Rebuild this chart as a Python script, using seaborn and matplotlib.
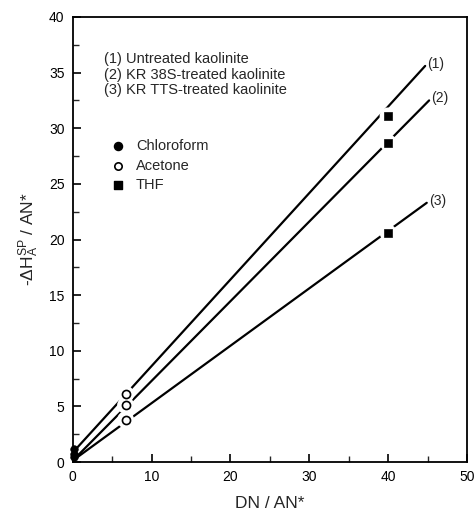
import numpy as np
import pandas as pd
import matplotlib
matplotlib.use("Agg")
import matplotlib.pyplot as plt
from matplotlib.ticker import MultipleLocator
import seaborn as sns

# ---- data ----
series = ["(1)", "(2)", "(3)"]
legend_lines = ["(1) Untreated kaolinite", "(2) KR 38S-treated kaolinite", "(3) KR TTS-treated kaolinite"]
line_x_start = [0.3, 0.5, 0.5]
line_y_start = [1.1, 0.5, 0.4]
line_x_end = [44.7, 45.2, 44.9]
line_y_end = [35.6, 32.5, 23.3]

chloroform_x = [0.2, 0.2, 0.2]
chloroform_y = [1.2, 0.7, 0.5]
acetone_x = [6.7, 6.7, 6.7]
acetone_y = [6.1, 5.1, 3.8]
thf_x = [40.0, 40.0, 40.0]
thf_y = [31.1, 28.7, 20.6]

solvents = ["Chloroform", "Acetone", "THF"]
x_ticks = [0, 10, 20, 30, 40, 50]
y_ticks = [0, 5, 10, 15, 20, 25, 30, 35, 40]

sns.set_theme(style="white")
plt.rcParams["font.family"] = ["Liberation Sans", "DejaVu Sans"]
plt.rcParams["mathtext.fontset"] = "custom"
plt.rcParams["mathtext.rm"] = "Liberation Sans"
plt.rcParams["mathtext.it"] = "Liberation Sans"
plt.rcParams["mathtext.bf"] = "Liberation Sans:bold"

fig = plt.figure(figsize=(4.76, 5.14), dpi=100)
ax = fig.add_axes([0.153, 0.101, 0.828, 0.866])

lines_df = pd.DataFrame({
    "x": line_x_start + line_x_end,
    "y": line_y_start + line_y_end,
    "s": series + series,
})
sns.lineplot(data=lines_df, x="x", y="y", hue="s", units="s", estimator=None,
             palette=["black"] * 3, linewidth=1.6, legend=False, ax=ax, zorder=2, sort=True)

# white halos to create gaps around markers
halo = pd.DataFrame({"x": acetone_x + thf_x, "y": acetone_y + thf_y})
sns.scatterplot(data=halo, x="x", y="y", s=150, color="white", edgecolor="none",
                marker="o", ax=ax, zorder=3, legend=False)

sns.scatterplot(x=chloroform_x, y=chloroform_y, s=30, color="black", marker="o",
                edgecolor="black", ax=ax, zorder=4, legend=False, clip_on=False)
sns.scatterplot(x=acetone_x, y=acetone_y, s=34, facecolor="white", marker="o",
                edgecolor="black", linewidth=1.2, ax=ax, zorder=4, legend=False)
sns.scatterplot(x=thf_x, y=thf_y, s=34, color="black", marker="s",
                edgecolor="black", ax=ax, zorder=4, legend=False)

# line end labels
for lab, xe, ye in zip(series, line_x_end, line_y_end):
    ax.text(xe + 0.3, ye + 0.2, lab, fontsize=10, ha="left", va="center")

# text legend
for i, t in enumerate(legend_lines):
    ax.text(4.0, 36.2 - 1.38 * i, t, fontsize=10.5, ha="left", va="center")

leg_marker_y = [28.4, 26.6, 24.9]
ax.scatter([5.7], [leg_marker_y[0]], s=34, color="black", marker="o")
ax.scatter([5.7], [leg_marker_y[1]], s=28, facecolor="white", edgecolor="black", linewidth=1.2, marker="o")
ax.scatter([5.7], [leg_marker_y[2]], s=30, color="black", marker="s")
for t, yy in zip(solvents, leg_marker_y):
    ax.text(8.0, yy, t, fontsize=10.5, ha="left", va="center")

ax.set_xlim(0, 50)
ax.set_ylim(0, 40)
ax.set_xticks(x_ticks)
ax.set_yticks(y_ticks)
ax.xaxis.set_minor_locator(MultipleLocator(5))
ax.yaxis.set_minor_locator(MultipleLocator(2.5))
ax.tick_params(axis="both", which="major", direction="in", length=6, width=1.2,
               labelsize=10, colors="black", pad=6)
ax.tick_params(axis="both", which="minor", direction="in", length=4, width=1.0)
ax.tick_params(axis="both", which="both", bottom=True, left=True, top=False, right=False)
for sp in ax.spines.values():
    sp.set_color("black")
    sp.set_linewidth(1.3)

ax.set_xlabel("DN / AN*", fontsize=12.5, labelpad=8)
ax.set_ylabel(r"-$\Delta$H$_\mathrm{A}^\mathrm{SP}$ / AN*", fontsize=12.5, labelpad=6)

fig.savefig("out.png", dpi=100)
